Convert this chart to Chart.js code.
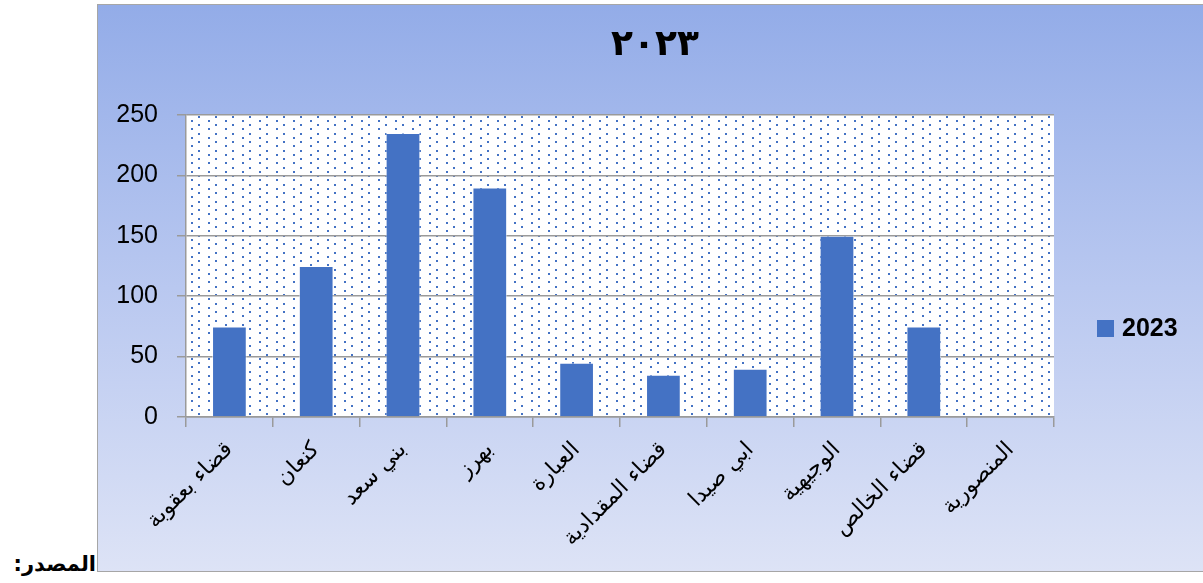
<!DOCTYPE html>
<html lang="ar">
<head>
<meta charset="utf-8">
<script src="https://cdn.jsdelivr.net/npm/chart.js@4.4.1/dist/chart.umd.min.js"></script>
<style>
    html, body { margin: 0; padding: 0; background: #fff; width: 1203px; height: 583px; overflow: hidden; }
    #marco {
        position: absolute; left: 97px; top: 4px; width: 1110px; height: 568px;
        box-sizing: border-box; border: 1px solid #a6a6a6;
        background: linear-gradient(to bottom, #93ace8 0%, #b9c8f0 50%, #dde3f6 100%);
    }
    #fuente {
        position: absolute; right: 1107px; top: 552px; direction: rtl; white-space: nowrap;
        font: bold 21px "DejaVu Sans", sans-serif; color: #000;
    }
</style>
</head>
<body>
<div id="marco"><canvas id="grafico"></canvas></div>
<div id="fuente">المصدر:</div>

<script>
// --- Datos ---
const categorias = [
    "قضاء بعقوبة", "كنعان", "بني سعد", "بهرز", "العبارة",
    "قضاء المقدادية", "ابي صيدا", "الوجيهية", "قضاء الخالص", "المنصورية"
];
const valores2023 = [75, 125, 235, 190, 45, 35, 40, 150, 75, 0];
const etiquetaSerie = "2023";
const tituloGrafico = "٢٠٢٣";
const ticksY = [0, 50, 100, 150, 200, 250];

const azul = "#4472c4";
const gris = "#9a9a9a";

// --- Fondo punteado del area de trazado ---
function crearPatronPuntos(ctx) {
    const c = document.createElement("canvas");
    c.width = 17; c.height = 17;
    const p = c.getContext("2d");
    p.fillStyle = "#fff";
    p.fillRect(0, 0, 17, 17);
    p.fillStyle = azul;
    [[8, 4], [8, 13], [15, 0], [15, 9]].forEach(([x, y]) => p.fillRect(x, y, 2, 2));
    return ctx.createPattern(c, "repeat");
}

const fondoPunteado = {
    id: "fondoPunteado",
    beforeDraw(chart) {
        const { ctx, chartArea: a } = chart;
        ctx.save();
        ctx.fillStyle = crearPatronPuntos(ctx);
        ctx.fillRect(a.left, a.top, a.right - a.left, a.bottom - a.top);
        ctx.restore();
    }
};

// --- Titulo y leyenda dibujados a mano ---
const tituloYLeyenda = {
    id: "tituloYLeyenda",
    afterDraw(chart) {
        const { ctx } = chart;
        const ds = chart.data.datasets[0];
        ctx.save();
        ctx.fillStyle = "#000";
        ctx.textAlign = "center";
        ctx.textBaseline = "middle";
        ctx.font = 'bold 36px "DejaVu Sans"';
        ctx.letterSpacing = "14px";
        ctx.fillText(tituloGrafico, 557, 41);
        ctx.letterSpacing = "0px";

        ctx.fillStyle = ds.backgroundColor;
        ctx.fillRect(999, 315, 17, 17);
        ctx.fillStyle = "#000";
        ctx.textAlign = "left";
        ctx.font = 'bold 25px "Liberation Sans"';
        ctx.fillText(ds.label, 1024, 324);
        ctx.restore();
    }
};

// --- Grafico ---
new Chart(document.getElementById("grafico"), {
    type: "bar",
    data: {
        labels: categorias,
        datasets: [{
            label: etiquetaSerie,
            data: valores2023,
            backgroundColor: azul,
            borderColor: "rgba(255,255,255,0.55)",
            borderWidth: 1,
            barPercentage: 0.4,
            categoryPercentage: 1.0
        }]
    },
    options: {
        responsive: true,
        maintainAspectRatio: false,
        animation: false,
        layout: { padding: { top: 110, right: 152, bottom: 0, left: 0 } },
        plugins: {
            legend: { display: false },
            title: { display: false },
            tooltip: { enabled: false }
        },
        scales: {
            x: {
                afterFit: s => { s.height = 154; },
                grid: { display: true, drawOnChartArea: false, drawTicks: true, tickLength: 10, color: gris, lineWidth: 1.5 },
                border: { display: true, color: gris, width: 1.5 },
                ticks: {
                    autoSkip: false, maxRotation: 45, minRotation: 45, padding: 10,
                    color: "#000", font: { family: "DejaVu Sans", size: 22 }
                }
            },
            y: {
                min: 0, max: 250,
                afterFit: s => { s.width = 88; },
                afterBuildTicks: s => { s.ticks = ticksY.map(v => ({ value: v })); },
                grid: { color: gris, lineWidth: 1.5, tickLength: 9 },
                border: { display: true, color: gris, width: 1.5 },
                ticks: {
                    padding: 19, color: "#000",
                    font: { family: "Liberation Sans", size: 25 }
                }
            }
        }
    },
    plugins: [fondoPunteado, tituloYLeyenda]
});
</script>
</body>
</html>
